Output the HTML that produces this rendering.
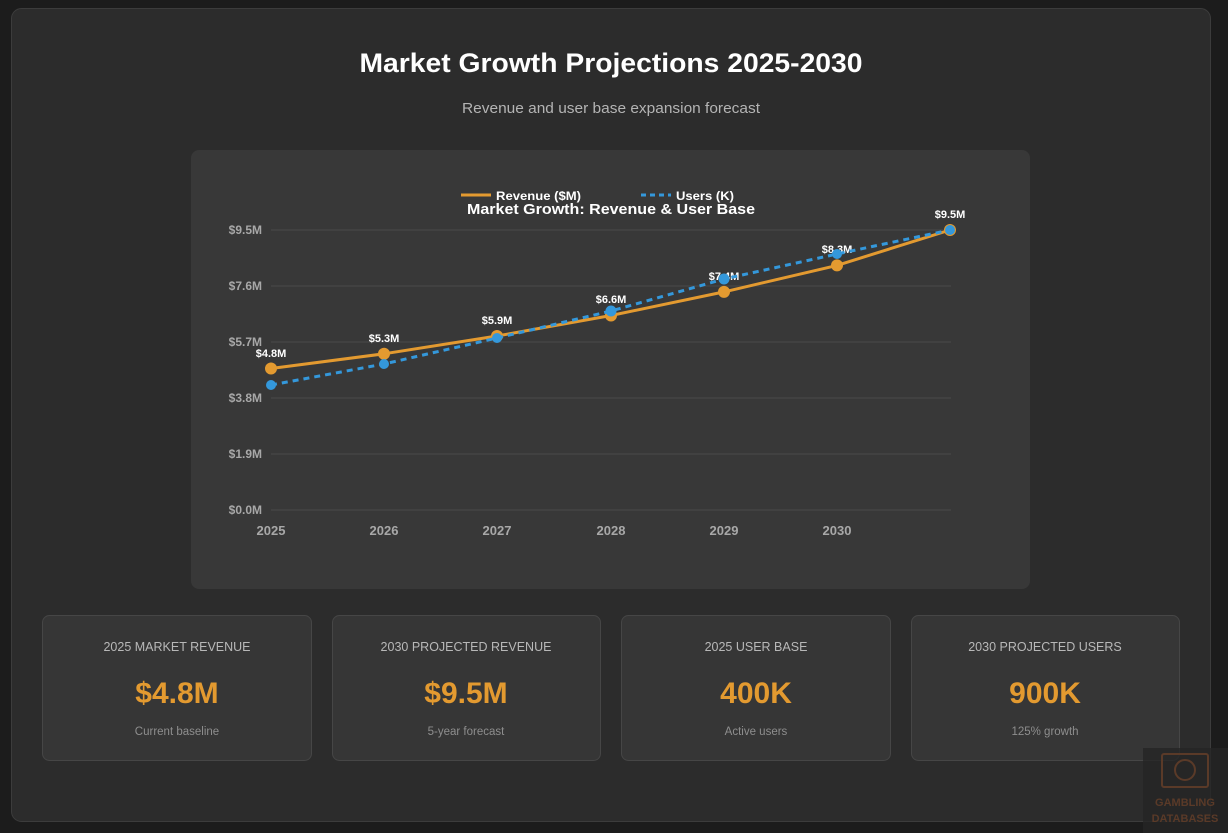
<!DOCTYPE html>
<html><head><meta charset="utf-8"><style>
html,body{margin:0;padding:0;background:#1c1c1c;width:1228px;height:833px;overflow:hidden}
svg{display:block}
text{font-family:"Liberation Sans",sans-serif}
</style></head><body>
<svg width="1228" height="833" viewBox="0 0 1228 833" xmlns="http://www.w3.org/2000/svg">
<rect x="0" y="0" width="1228" height="833" fill="#1c1c1c"/>
<rect x="11.5" y="8.5" width="1199" height="813" rx="10" fill="#2c2c2c" stroke="#3c3c3c"/>
<text x="611" y="72" text-anchor="middle" fill="#fff" font-size="27" font-weight="bold" textLength="503" lengthAdjust="spacingAndGlyphs">Market Growth Projections 2025-2030</text>
<text x="611" y="113" text-anchor="middle" fill="#b4b4b4" font-size="15" textLength="298" lengthAdjust="spacingAndGlyphs">Revenue and user base expansion forecast</text>
<rect x="191" y="150" width="839" height="439" rx="8" fill="#383838"/>
<g stroke="#444" stroke-width="1.5">
<line x1="271" x2="951" y1="230" y2="230"/><line x1="271" x2="951" y1="286" y2="286"/>
<line x1="271" x2="951" y1="342" y2="342"/><line x1="271" x2="951" y1="398" y2="398"/>
<line x1="271" x2="951" y1="454" y2="454"/><line x1="271" x2="951" y1="510" y2="510"/>
</g>
<g fill="#a8a8a8" font-size="12" font-weight="bold" text-anchor="end">
<text x="262" y="234">$9.5M</text><text x="262" y="290">$7.6M</text><text x="262" y="346">$5.7M</text>
<text x="262" y="402">$3.8M</text><text x="262" y="458">$1.9M</text><text x="262" y="514">$0.0M</text>
</g>
<g fill="#a8a8a8" font-size="13" font-weight="bold" text-anchor="middle">
<text x="271" y="535">2025</text><text x="384" y="535">2026</text><text x="497" y="535">2027</text>
<text x="611" y="535">2028</text><text x="724" y="535">2029</text><text x="837" y="535">2030</text>
</g>
<line x1="461" x2="491" y1="195" y2="195" stroke="#e39a30" stroke-width="3"/>
<text x="496" y="200" fill="#fff" font-size="12" font-weight="bold" textLength="85" lengthAdjust="spacingAndGlyphs">Revenue ($M)</text>
<line x1="641" x2="671" y1="195" y2="195" stroke="#3498db" stroke-width="3" stroke-dasharray="5,4"/>
<text x="676" y="200" fill="#fff" font-size="12" font-weight="bold" textLength="58" lengthAdjust="spacingAndGlyphs">Users (K)</text>
<text x="611" y="214" text-anchor="middle" fill="#fff" font-size="15" font-weight="bold" textLength="288" lengthAdjust="spacingAndGlyphs">Market Growth: Revenue &amp; User Base</text>
<polyline points="271,368.5 384,353.8 497,336 611,315.5 724,291.9 837,265.4 950,230" fill="none" stroke="#e39a30" stroke-width="3"/>
<g fill="#e39a30"><circle cx="271" cy="368.5" r="6"/><circle cx="384" cy="353.8" r="6"/><circle cx="497" cy="336" r="6"/><circle cx="611" cy="315.5" r="6"/><circle cx="724" cy="291.9" r="6"/><circle cx="837" cy="265.4" r="6"/><circle cx="950" cy="230" r="6"/></g>
<g fill="#fff" font-size="11" font-weight="bold" text-anchor="middle">
<text x="271" y="357">$4.8M</text><text x="384" y="342">$5.3M</text><text x="497" y="324">$5.9M</text>
<text x="611" y="303">$6.6M</text><text x="724" y="280">$7.4M</text><text x="837" y="253">$8.3M</text><text x="950" y="218">$9.5M</text>
</g>
<polyline points="271,385 384,364 497,338 611,311 724,279 837,254 950,230" fill="none" stroke="#3498db" stroke-width="3" stroke-dasharray="6,5"/>
<g fill="#3498db"><circle cx="271" cy="385" r="5"/><circle cx="384" cy="364" r="5"/><circle cx="497" cy="338" r="5"/><circle cx="611" cy="311" r="5.5"/><circle cx="724" cy="279" r="5.5"/><circle cx="837" cy="254" r="5"/><circle cx="950" cy="230" r="5"/></g>
<g fill="#363636" stroke="#464646">
<rect x="42.5" y="615.5" width="269" height="145" rx="7"/><rect x="332.5" y="615.5" width="268" height="145" rx="7"/>
<rect x="621.5" y="615.5" width="269" height="145" rx="7"/><rect x="911.5" y="615.5" width="268" height="145" rx="7"/>
</g>
<g text-anchor="middle">
<g fill="#b8b8b8" font-size="12.5"><text x="177" y="651">2025 MARKET REVENUE</text><text x="466" y="651">2030 PROJECTED REVENUE</text><text x="756" y="651">2025 USER BASE</text><text x="1045" y="651">2030 PROJECTED USERS</text></g>
<g fill="#e39a30" font-size="30" font-weight="bold"><text x="177" y="703">$4.8M</text><text x="466" y="703">$9.5M</text><text x="756" y="703">400K</text><text x="1045" y="703">900K</text></g>
<g fill="#8e8e8e" font-size="11.5"><text x="177" y="735">Current baseline</text><text x="466" y="735">5-year forecast</text><text x="756" y="735">Active users</text><text x="1045" y="735">125% growth</text></g>
</g>
<rect x="1143" y="748" width="85" height="85" fill="#262626" opacity="0.8"/>
<rect x="1162" y="754" width="46" height="33" rx="2" fill="none" stroke="#5a3a28" stroke-width="2"/>
<circle cx="1185" cy="770" r="10" fill="none" stroke="#5a3a28" stroke-width="2"/>
<text x="1185" y="806" text-anchor="middle" fill="#5a3a28" font-size="11" font-weight="bold">GAMBLING</text>
<text x="1185" y="822" text-anchor="middle" fill="#5a3a28" font-size="11" font-weight="bold">DATABASES</text>
</svg>
</body></html>
